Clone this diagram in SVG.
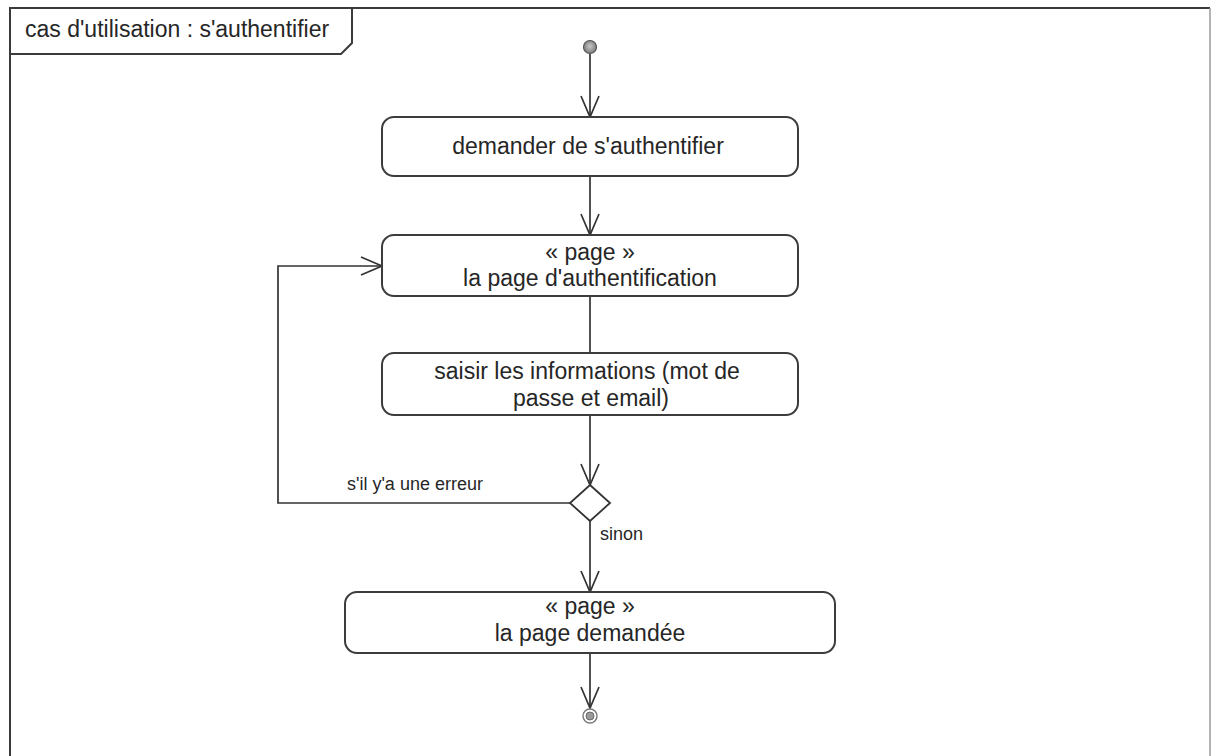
<svg xmlns="http://www.w3.org/2000/svg" width="1211" height="756" viewBox="0 0 1211 756">
  <style>
    .frame { fill: none; stroke: #3a3a3a; stroke-width: 2; }
    .action { fill: #ffffff; stroke: #3c3c3c; stroke-width: 2; }
    .edge { fill: none; stroke: #333333; stroke-width: 1.7; }
    .txt { font-family: "Liberation Sans", Arial, sans-serif; fill: #262626; }
    .big { font-size: 23px; }
    .small { font-size: 18px; }
  </style>
  <defs>
    <marker id="open-arrow" markerUnits="userSpaceOnUse" markerWidth="26" markerHeight="24" refX="22" refY="10" orient="auto">
      <path d="M1,1 L22,10 L1,19" fill="none" stroke="#333333" stroke-width="1.7"/>
    </marker>
    <radialGradient id="start-fill" cx="50%" cy="45%" r="55%">
      <stop offset="0" stop-color="#c8c8c8"/>
      <stop offset="1" stop-color="#7a7a7a"/>
    </radialGradient>
  </defs>

  <rect x="0" y="0" width="1211" height="756" fill="#ffffff"/>

  <!-- activity frame with name tab -->
  <g id="frame">
    <path class="frame" d="M10,770 L10,8 L1210,8"/>
    <line x1="1210" y1="8" x2="1210" y2="770" stroke="#9a9a9a" stroke-width="1.5"/>
    <path class="frame" d="M10,54 L341,54 L352,43 L352,8"/>
    <text class="txt big" x="25" y="37">cas d'utilisation : s'authentifier</text>
  </g>

  <!-- connectors -->
  <g id="connectors">
    <line class="edge" x1="590" y1="54" x2="590" y2="117" marker-end="url(#open-arrow)"/>
    <line class="edge" x1="590" y1="176" x2="590" y2="235" marker-end="url(#open-arrow)"/>
    <line class="edge" x1="590" y1="296" x2="590" y2="353"/>
    <line class="edge" x1="590" y1="415" x2="590" y2="485" marker-end="url(#open-arrow)"/>
    <polyline class="edge" points="570,503 278,503 278,266 382,266" marker-end="url(#open-arrow)"/>
    <text class="txt small" x="347" y="490">s'il y'a une erreur</text>
    <line class="edge" x1="590" y1="521" x2="590" y2="592" marker-end="url(#open-arrow)"/>
    <text class="txt small" x="600" y="540">sinon</text>
    <line class="edge" x1="590" y1="653" x2="590" y2="708" marker-end="url(#open-arrow)"/>
  </g>

  <g id="start">
    <circle cx="590" cy="47" r="6.5" fill="url(#start-fill)" stroke="#555555" stroke-width="1.2"/>
  </g>

  <g id="demander">
    <rect class="action" x="382" y="117" width="416" height="59" rx="12" ry="12"/>
    <text class="txt big" x="588" y="154" text-anchor="middle">demander de s'authentifier</text>
  </g>

  <g id="page-authentification">
    <rect class="action" x="382" y="235" width="416" height="61" rx="12" ry="12"/>
    <text class="txt big" x="590" y="260" text-anchor="middle">« page »</text>
    <text class="txt big" x="590" y="286" text-anchor="middle">la page d'authentification</text>
  </g>

  <g id="saisir">
    <rect class="action" x="382" y="353" width="416" height="62" rx="12" ry="12"/>
    <text class="txt big" x="587" y="379" text-anchor="middle">saisir les informations (mot de</text>
    <text class="txt big" x="591" y="406" text-anchor="middle">passe et email)</text>
  </g>

  <g id="decision">
    <polygon points="590,485 610,503 590,521 570,503" fill="#ffffff" stroke="#333333" stroke-width="1.8"/>
  </g>

  <g id="page-demandee">
    <rect class="action" x="345" y="592" width="490" height="61" rx="12" ry="12"/>
    <text class="txt big" x="590" y="614" text-anchor="middle">« page »</text>
    <text class="txt big" x="590" y="641" text-anchor="middle">la page demandée</text>
  </g>

  <g id="end">
    <circle cx="590" cy="716" r="7" fill="#ffffff" stroke="#777777" stroke-width="1.4"/>
    <circle cx="590" cy="716" r="4" fill="#9a9a9a" stroke="#6a6a6a" stroke-width="1"/>
  </g>
</svg>
